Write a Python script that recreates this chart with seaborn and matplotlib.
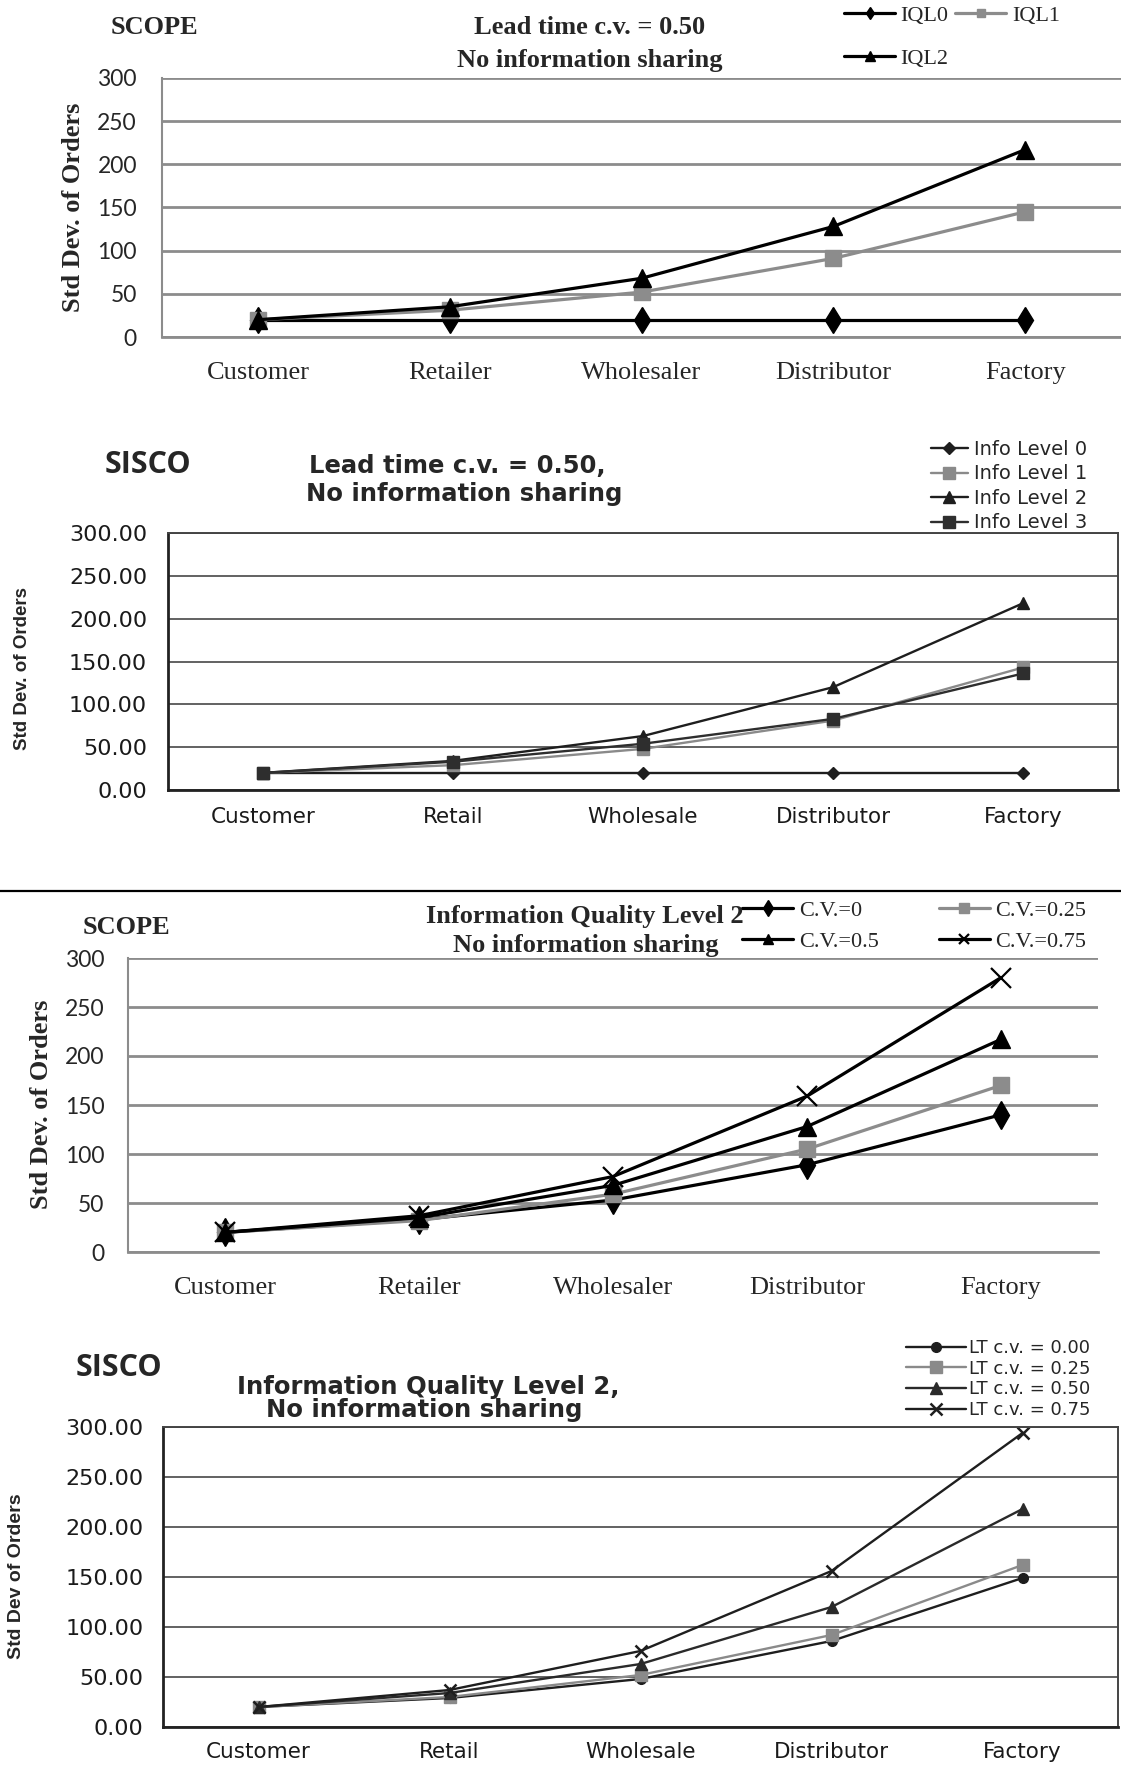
import numpy as np
import matplotlib
matplotlib.use("Agg")
import matplotlib.pyplot as plt
from matplotlib.lines import Line2D
from matplotlib.font_manager import FontProperties
import seaborn as sns

# ---------------- data ----------------
scope_stages = ["Customer", "Retailer", "Wholesaler", "Distributor", "Factory"]
sisco_stages = ["Customer", "Retail", "Wholesale", "Distributor", "Factory"]
y_ticks = [0, 50, 100, 150, 200, 250, 300]

# Panel 1: SCOPE, lead time c.v. = 0.50
p1_labels = ["IQL0", "IQL1", "IQL2"]
p1_iql0 = [20, 20, 20, 20, 20]
p1_iql1 = [20, 31, 52, 91, 145]
p1_iql2 = [20, 35, 68, 128, 217]

# Panel 2: SISCO, lead time c.v. = 0.50
p2_labels = ["Info Level 0", "Info Level 1", "Info Level 2", "Info Level 3"]
p2_lvl0 = [20, 20, 20, 20, 20]
p2_lvl1 = [20, 29, 48, 81, 143]
p2_lvl2 = [20, 34, 63, 120, 218]
p2_lvl3 = [20, 33, 54, 83, 136]

# Panel 3: SCOPE, information quality level 2
p3_labels = ["C.V.=0", "C.V.=0.25", "C.V.=0.5", "C.V.=0.75"]
p3_cv0 = [20, 33, 53, 89, 140]
p3_cv25 = [20, 32, 59, 105, 170]
p3_cv50 = [20, 35, 68, 128, 217]
p3_cv75 = [20, 37, 77, 159, 280]

# Panel 4: SISCO, information quality level 2
p4_labels = ["LT c.v. = 0.00", "LT c.v. = 0.25", "LT c.v. = 0.50", "LT c.v. = 0.75"]
p4_lt0 = [20, 29, 48, 86, 149]
p4_lt25 = [20, 30, 52, 92, 162]
p4_lt50 = [20, 34, 63, 120, 218]
p4_lt75 = [20, 37, 76, 156, 294]

# ---------------- style ----------------
sns.set_style("white")
SERIF = ["Liberation Serif", "DejaVu Serif"]
CAL = ["Lato", "DejaVu Sans"]
SANS = ["DejaVu Sans"]
NARROW = ["Liberation Sans Narrow", "Liberation Sans", "DejaVu Sans"]
plt.rcParams["font.family"] = SANS

W, H = 1121, 1776
fig = plt.figure(figsize=(W / 100, H / 100), dpi=100)


def px_axes(left, top, right, bottom):
    return fig.add_axes([left / W, 1 - bottom / H, (right - left) / W, (bottom - top) / H])


def fx(x):
    return x / W


def fy(y):
    return 1 - y / H


def series(ax, stages, vals, label, color, marker, ms, lw, mew=1.0):
    sns.lineplot(x=stages, y=vals, ax=ax, sort=False, errorbar=None, color=color,
                 linewidth=lw, marker=marker, markersize=ms, markerfacecolor=color,
                 markeredgecolor=color, markeredgewidth=mew, label=label)


def style_scope(ax, stages, xpad):
    ax.set_xlim(-0.5, 4.5)
    ax.set_ylim(0, 300)
    ax.set_yticks(y_ticks)
    ax.set_xticks(range(len(stages)))
    ax.set_xticklabels(stages, fontfamily=SERIF, fontsize=19)
    ax.set_yticklabels([str(v) for v in y_ticks], fontfamily=CAL, fontsize=16.5)
    ax.yaxis.grid(True, color="#8c8c8c", lw=2)
    ax.xaxis.grid(False)
    ax.set_axisbelow(True)
    for s in ["top", "right"]:
        ax.spines[s].set_visible(False)
    ax.spines["left"].set_color("#8c8c8c")
    ax.spines["left"].set_linewidth(1.5)
    ax.spines["bottom"].set_color("#8c8c8c")
    ax.spines["bottom"].set_linewidth(2)
    ax.tick_params(axis="both", length=0)
    ax.tick_params(axis="y", pad=18)
    ax.tick_params(axis="x", pad=xpad)
    ax.set_xlabel("")


def style_sisco(ax, stages, xpad, ypad):
    ax.set_xlim(-0.5, 4.5)
    ax.set_ylim(0, 300)
    ax.set_yticks(y_ticks)
    ax.set_xticks(range(len(stages)))
    ax.set_xticklabels(stages, fontfamily=SANS, fontsize=15.5)
    ax.set_yticklabels([f"{v:.2f}" for v in y_ticks], fontfamily=SANS, fontsize=16)
    ax.set_xticks(np.arange(-0.5, 5.0, 1.0), minor=True)
    ax.yaxis.grid(True, color="#555555", lw=1.3)
    ax.xaxis.grid(False)
    ax.set_axisbelow(True)
    for s in ["top", "right"]:
        ax.spines[s].set_color("#444444")
        ax.spines[s].set_linewidth(1.4)
    for s in ["left", "bottom"]:
        ax.spines[s].set_color("#222222")
        ax.spines[s].set_linewidth(2.0)
    ax.tick_params(axis="x", which="major", length=0, pad=xpad, colors="#1a1a1a")
    ax.tick_params(axis="x", which="minor", length=7, width=1.5, direction="out", color="#333333")
    ax.tick_params(axis="y", length=7, width=1.5, direction="out", color="#333333", pad=ypad,
                   labelcolor="#1a1a1a")
    ax.set_xlabel("")


# ================= Panel 1 (SCOPE) =================
ax1 = px_axes(162, 78, 1121, 337)
series(ax1, scope_stages, p1_iql0, p1_labels[0], "black", "d", 13, 2.3)
series(ax1, scope_stages, p1_iql1, p1_labels[1], "#8c8c8c", "s", 12, 2.3)
series(ax1, scope_stages, p1_iql2, p1_labels[2], "black", "^", 13, 2.3)
style_scope(ax1, scope_stages, xpad=18)
ax1.set_ylabel("Std Dev. of Orders", fontfamily=SERIF, fontweight="bold", fontsize=19)
ax1.yaxis.label.set_va("center")
ax1.yaxis.set_label_coords((74 - 162) / 959, (337 - 207) / 259)
h, l = ax1.get_legend_handles_labels()
ax1.legend([h[0], h[2], h[1]], [l[0], l[2], l[1]], ncol=2, loc="upper left",
           bbox_to_anchor=(fx(844), fy(5)), bbox_transform=fig.transFigure, frameon=False,
           borderpad=0, borderaxespad=0, handlelength=2.3, handletextpad=0.25,
           columnspacing=0.3, labelspacing=1.02, markerscale=0.5,
           prop=FontProperties(family=SERIF, size=16))
fig.text(fx(154), fy(28), "SCOPE", fontfamily=SERIF, fontweight="bold", fontsize=19,
         ha="center", va="center")
fig.text(fx(590), fy(28), "Lead time c.v. = 0.50", fontfamily=SERIF, fontweight="bold",
         fontsize=19, ha="center", va="center")
fig.text(fx(590), fy(60), "No information sharing", fontfamily=SERIF, fontweight="bold",
         fontsize=19, ha="center", va="center")

# ================= Panel 2 (SISCO) =================
ax2 = px_axes(168, 533, 1118, 790)
series(ax2, sisco_stages, p2_lvl0, p2_labels[0], "#1e1e1e", "D", 6.5, 1.7)
series(ax2, sisco_stages, p2_lvl1, p2_labels[1], "#8a8a8a", "s", 8, 1.7)
series(ax2, sisco_stages, p2_lvl2, p2_labels[2], "#1e1e1e", "^", 9, 1.7)
series(ax2, sisco_stages, p2_lvl3, p2_labels[3], "#2e2e2e", "s", 8, 1.7)
style_sisco(ax2, sisco_stages, xpad=12, ypad=8)
ax2.set_ylabel("Std Dev. of Orders", fontfamily=NARROW, fontweight="bold", fontsize=13.5)
ax2.yaxis.label.set_va("center")
ax2.yaxis.set_label_coords((23 - 168) / 950, (790 - 668) / 257)
h, l = ax2.get_legend_handles_labels()
ax2.legend(h, l, loc="upper left", bbox_to_anchor=(fx(931), fy(440)),
           bbox_transform=fig.transFigure, frameon=False, borderpad=0, borderaxespad=0,
           handlelength=1.9, handletextpad=0.3, labelspacing=0.28, markerscale=1.0,
           prop=FontProperties(family=SANS, size=14))
fig.text(fx(148), fy(465), "SISCO", fontfamily=["Open Sans", "DejaVu Sans"],
         fontweight="bold", fontsize=22, ha="center", va="center")
fig.text(fx(457), fy(466), "Lead time c.v. = 0.50,", fontfamily=SANS, fontweight="bold",
         fontsize=17.5, ha="center", va="center")
fig.text(fx(464), fy(494), "No information sharing", fontfamily=SANS, fontweight="bold",
         fontsize=17.5, ha="center", va="center")

# separator line
fig.add_artist(Line2D([0, 1], [fy(891), fy(891)], transform=fig.transFigure,
                      color="black", lw=1.6))

# ================= Panel 3 (SCOPE) =================
ax3 = px_axes(128, 958, 1098, 1252)
series(ax3, scope_stages, p3_cv0, p3_labels[0], "black", "d", 14, 2.3)
series(ax3, scope_stages, p3_cv25, p3_labels[1], "#8c8c8c", "s", 12, 2.3)
series(ax3, scope_stages, p3_cv50, p3_labels[2], "black", "^", 13, 2.3)
series(ax3, scope_stages, p3_cv75, p3_labels[3], "black", "x", 14, 2.3, mew=1.6)
style_scope(ax3, scope_stages, xpad=18)
ax3.tick_params(axis="y", pad=17)
ax3.set_ylabel("Std Dev. of Orders", fontfamily=SERIF, fontweight="bold", fontsize=19)
ax3.yaxis.label.set_va("center")
ax3.yaxis.set_label_coords((42 - 128) / 970, (1252 - 1104) / 294)
h, l = ax3.get_legend_handles_labels()
ax3.legend([h[0], h[2], h[1], h[3]], [l[0], l[2], l[1], l[3]], ncol=2, loc="upper left",
           bbox_to_anchor=(fx(742), fy(900)), bbox_transform=fig.transFigure, frameon=False,
           borderpad=0, borderaxespad=0, handlelength=2.3, handletextpad=0.25,
           columnspacing=2.7, labelspacing=0.5, markerscale=0.55,
           prop=FontProperties(family=SERIF, size=16))
fig.text(fx(126), fy(927), "SCOPE", fontfamily=SERIF, fontweight="bold", fontsize=19,
         ha="center", va="center")
fig.text(fx(585), fy(916), "Information Quality Level 2", fontfamily=SERIF,
         fontweight="bold", fontsize=19, ha="center", va="center")
fig.text(fx(586), fy(945), "No information sharing", fontfamily=SERIF, fontweight="bold",
         fontsize=19, ha="center", va="center")

# ================= Panel 4 (SISCO) =================
ax4 = px_axes(163, 1427, 1118, 1727)
series(ax4, sisco_stages, p4_lt0, p4_labels[0], "#1e1e1e", "o", 7, 1.7)
series(ax4, sisco_stages, p4_lt25, p4_labels[1], "#8a8a8a", "s", 8, 1.7)
series(ax4, sisco_stages, p4_lt50, p4_labels[2], "#2a2a2a", "^", 9, 1.7)
series(ax4, sisco_stages, p4_lt75, p4_labels[3], "#1e1e1e", "x", 9, 1.7, mew=1.8)
style_sisco(ax4, sisco_stages, xpad=11, ypad=7)
ax4.set_ylabel("Std Dev of Orders", fontfamily=NARROW, fontweight="bold", fontsize=14)
ax4.yaxis.label.set_va("center")
ax4.yaxis.set_label_coords((17 - 163) / 955, (1727 - 1576) / 300)
h, l = ax4.get_legend_handles_labels()
ax4.legend(h, l, loc="upper left", bbox_to_anchor=(fx(906), fy(1339)),
           bbox_transform=fig.transFigure, frameon=False, borderpad=0, borderaxespad=0,
           handlelength=3.3, handletextpad=0.2, labelspacing=0.15, markerscale=1.0,
           prop=FontProperties(family=SANS, size=13))
fig.text(fx(119), fy(1368), "SISCO", fontfamily=["Open Sans", "DejaVu Sans"],
         fontweight="bold", fontsize=22, ha="center", va="center")
fig.text(fx(428), fy(1387), "Information Quality Level 2,", fontfamily=SANS,
         fontweight="bold", fontsize=17.5, ha="center", va="center")
fig.text(fx(424), fy(1410), "No information sharing", fontfamily=SANS, fontweight="bold",
         fontsize=17.5, ha="center", va="center")

fig.savefig("out.png", dpi=100)
